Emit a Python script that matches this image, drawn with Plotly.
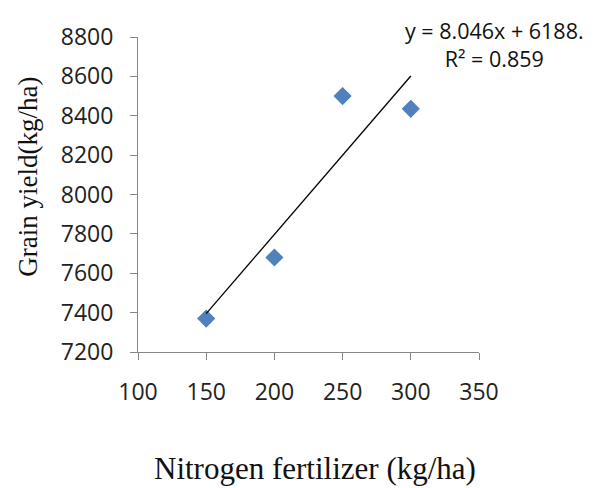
import plotly.graph_objects as go

nitrogen = [150, 200, 250, 300]
grain_yield = [7370, 7680, 8500, 8435]
slope = 8.046
intercept = 6188
trend_x = [150, 300]
trend_y = [slope * v + intercept for v in trend_x]
eq_text = "y = 8.046x + 6188."
r2_text = "R\u00b2 = 0.859"
x_title = "Nitrogen fertilizer (kg/ha)"
y_title = "Grain yield(kg/ha)"

OFF = 8  # page body margin
W, H = 590, 480
L, T = 138 - OFF, 25 - OFF
pw, ph = 341, 327
R, B = W - L - pw, H - T - ph

def px(x):
    return (x - OFF - L) / pw

def py(y):
    return (T + ph - (y - OFF)) / ph

fig = go.Figure()
fig.add_trace(go.Scatter(x=nitrogen, y=grain_yield, mode="markers",
                         marker=dict(symbol="diamond", size=14, color="#4F81BD"),
                         showlegend=False, hoverinfo="x+y"))
fig.add_trace(go.Scatter(x=trend_x, y=trend_y, mode="lines",
                         line=dict(color="black", width=1.3),
                         showlegend=False, hoverinfo="skip"))

axis_common = dict(showgrid=False, zeroline=False, showline=True,
                   linecolor="#868686", linewidth=1, ticks="outside",
                   ticklen=7, tickcolor="#868686", tickwidth=1,
                   tickfont=dict(family="Open Sans", size=23, color="#222222"))
fig.update_xaxes(range=[100, 350], dtick=50, tick0=100,
                 ticklabelstandoff=12, **axis_common)
fig.update_yaxes(range=[7200, 8800], dtick=200, tick0=7200,
                 ticklabelstandoff=12, **axis_common)

serif_x = dict(family="Liberation Serif", size=31, color="#111111")
serif_y = dict(family="Liberation Serif", size=27, color="#111111")
sans = dict(family="Open Sans", size=21.5, color="#111111")
fig.update_layout(
    width=W, height=H,
    margin=dict(l=L, r=R, t=T, b=B, pad=0),
    plot_bgcolor="white", paper_bgcolor="white",
    annotations=[
        dict(text=x_title, xref="paper", yref="paper", x=px(315), y=py(473),
             xanchor="center", yanchor="middle", showarrow=False, font=serif_x),
        dict(text=y_title, xref="paper", yref="paper", x=px(28), y=py(170),
             xanchor="center", yanchor="middle", showarrow=False, font=serif_y,
             textangle=-90),
        dict(text=eq_text + "<br>" + r2_text, xref="paper", yref="paper",
             x=px(494), y=py(33), xanchor="center", yanchor="middle",
             align="center", showarrow=False, font=sans),
    ],
)
fig.write_html("out.html")
